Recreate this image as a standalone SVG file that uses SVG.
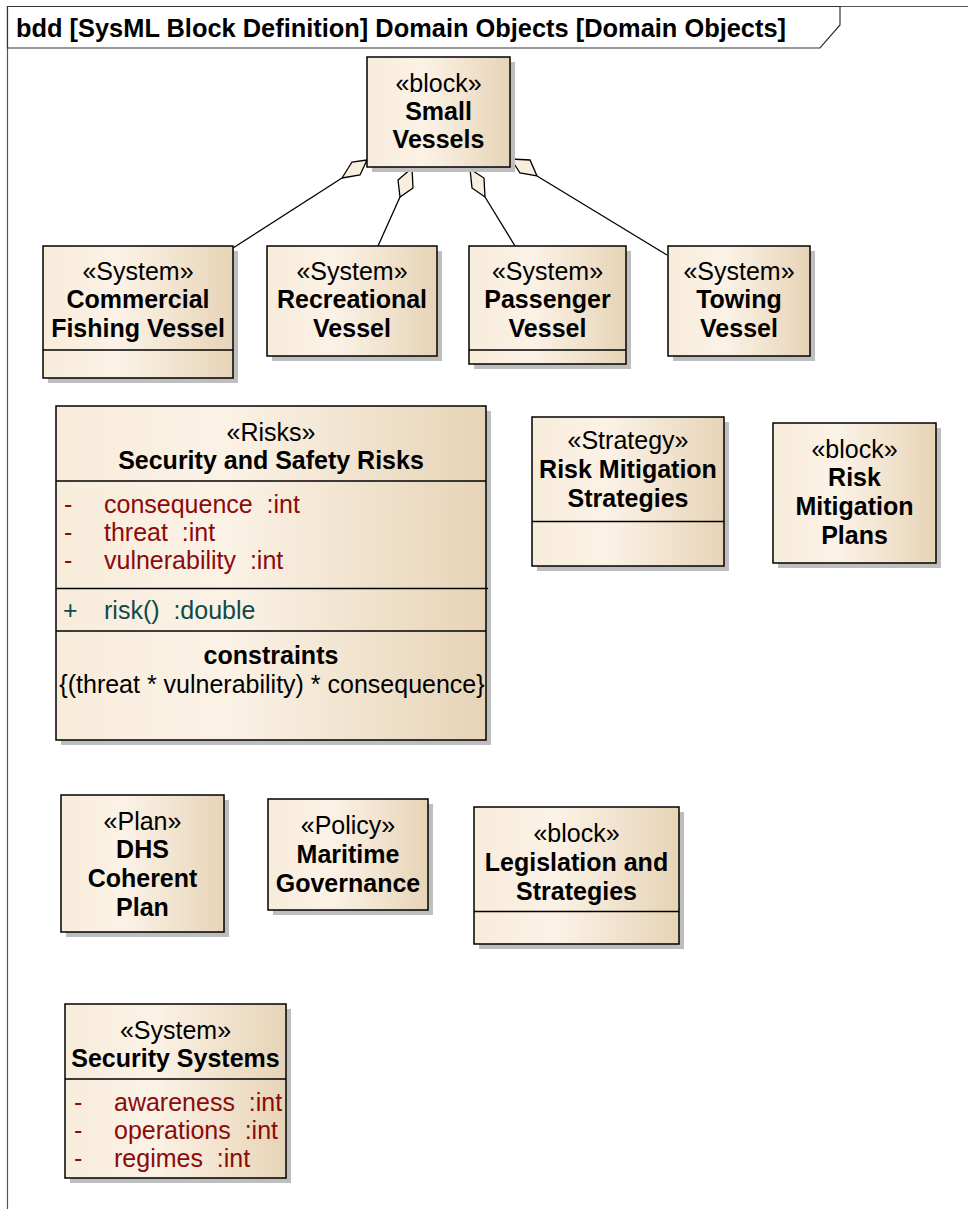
<svg xmlns="http://www.w3.org/2000/svg" width="968" height="1209" viewBox="0 0 968 1209">
<defs>
<linearGradient id="fill" x1="0" y1="0" x2="1" y2="0">
<stop offset="0" stop-color="#F8ECDB"/>
<stop offset="0.4" stop-color="#FBF2E6"/>
<stop offset="1" stop-color="#E7D4B7"/>
</linearGradient>
</defs>
<style>
text{font-family:"Liberation Sans",Arial,sans-serif;font-size:25px;fill:#000}
.c{text-anchor:middle}
.b{font-weight:bold}
.box{fill:url(#fill);stroke:#000;stroke-width:1.5}
.sh{fill:#BEBEBE}
.div{stroke:#000;stroke-width:1.3}
.attr{fill:#8B0A0A;white-space:pre}
.op{fill:#0D4A4A;white-space:pre}
.frame{fill:#fff;stroke:#333;stroke-width:1.2}
.con line{stroke:#000;stroke-width:1.3}
.con polygon{fill:#F8EEDE;stroke:#000;stroke-width:1.3}
</style>
<rect width="968" height="1209" fill="#fff"/>
<g id="frame">
<line x1="7.5" y1="6.5" x2="968" y2="6.5" stroke="#555" stroke-width="1.2"/>
<line x1="7.5" y1="6.5" x2="7.5" y2="1209" stroke="#555" stroke-width="1.2"/>
<path class="frame" d="M7.5 6.5 H840 V25 L820 48 H7.5 Z"/>
<text x="16" y="37" class="b" textLength="770" lengthAdjust="spacingAndGlyphs">bdd [SysML Block Definition] Domain Objects [Domain Objects]</text>
</g>
<g id="connectors" class="con">
<line x1="342" y1="178" x2="233" y2="248"/>
<polygon points="367,160 352,162 342,178 360,175"/>
<line x1="400" y1="197" x2="378" y2="246"/>
<polygon points="412,168 398,180 400,197 413,188"/>
<line x1="485" y1="197" x2="515" y2="246"/>
<polygon points="470,169 472,188 485,197 484,178"/>
<line x1="537" y1="176" x2="667" y2="255"/>
<polygon points="511,159 520,173 537,176 530,160"/>
</g>
<g id="small-vessels">
<rect class="sh" x="372" y="62" width="143" height="110"/>
<rect class="box" x="367" y="57" width="143" height="110"/>
<text class="c" x="438.5" y="92">«block»</text>
<text class="c b" x="438.5" y="120">Small</text>
<text class="c b" x="438.5" y="148">Vessels</text>
</g>
<g id="commercial-fishing-vessel">
<rect class="sh" x="48" y="251" width="190" height="132"/>
<rect class="box" x="43" y="246" width="190" height="132"/>
<line class="div" x1="43" y1="350" x2="233" y2="350"/>
<text class="c" x="138" y="280">«System»</text>
<text class="c b" x="138" y="308">Commercial</text>
<text class="c b" x="138" y="337">Fishing Vessel</text>
</g>
<g id="recreational-vessel">
<rect class="sh" x="272" y="251" width="170" height="110"/>
<rect class="box" x="267" y="246" width="170" height="110"/>
<text class="c" x="352" y="280">«System»</text>
<text class="c b" x="352" y="308">Recreational</text>
<text class="c b" x="352" y="337">Vessel</text>
</g>
<g id="passenger-vessel">
<rect class="sh" x="474" y="251" width="157" height="118"/>
<rect class="box" x="469" y="246" width="157" height="118"/>
<line class="div" x1="469" y1="350" x2="626" y2="350"/>
<text class="c" x="547.5" y="280">«System»</text>
<text class="c b" x="547.5" y="308">Passenger</text>
<text class="c b" x="547.5" y="337">Vessel</text>
</g>
<g id="towing-vessel">
<rect class="sh" x="673" y="251" width="142" height="110"/>
<rect class="box" x="668" y="246" width="142" height="110"/>
<text class="c" x="739" y="280">«System»</text>
<text class="c b" x="739" y="308">Towing</text>
<text class="c b" x="739" y="337">Vessel</text>
</g>
<g id="security-and-safety-risks">
<rect class="sh" x="61" y="411" width="430" height="334"/>
<rect class="box" x="56" y="406" width="430" height="334"/>
<line class="div" x1="56" y1="481" x2="486" y2="481"/>
<line class="div" x1="56" y1="588.5" x2="488" y2="588.5"/>
<line class="div" x1="56" y1="631" x2="486" y2="631"/>
<text class="c" x="271" y="441">«Risks»</text>
<text class="c b" x="271" y="469">Security and Safety Risks</text>
<text class="attr" x="64" y="513">-</text>
<text class="attr" x="104" y="513">consequence  :int</text>
<text class="attr" x="64" y="541">-</text>
<text class="attr" x="104" y="541">threat  :int</text>
<text class="attr" x="64" y="569">-</text>
<text class="attr" x="104" y="569">vulnerability  :int</text>
<text class="op" x="63" y="619">+</text>
<text class="op" x="104" y="619">risk()  :double</text>
<text class="c b" x="271" y="664">constraints</text>
<text class="c" x="272" y="693">{(threat * vulnerability) * consequence}</text>
</g>
<g id="risk-mitigation-strategies">
<rect class="sh" x="537" y="422" width="192" height="149"/>
<rect class="box" x="532" y="417" width="192" height="149"/>
<line class="div" x1="532" y1="521.5" x2="724" y2="521.5"/>
<text class="c" x="628" y="449">«Strategy»</text>
<text class="c b" x="628" y="478">Risk Mitigation</text>
<text class="c b" x="628" y="507">Strategies</text>
</g>
<g id="risk-mitigation-plans">
<rect class="sh" x="778" y="428" width="163" height="140"/>
<rect class="box" x="773" y="423" width="163" height="140"/>
<text class="c" x="854.5" y="458">«block»</text>
<text class="c b" x="854.5" y="486">Risk</text>
<text class="c b" x="854.5" y="515">Mitigation</text>
<text class="c b" x="854.5" y="544">Plans</text>
</g>
<g id="dhs-coherent-plan">
<rect class="sh" x="66" y="800" width="163" height="137"/>
<rect class="box" x="61" y="795" width="163" height="137"/>
<text class="c" x="142.5" y="830">«Plan»</text>
<text class="c b" x="142.5" y="858">DHS</text>
<text class="c b" x="142.5" y="887">Coherent</text>
<text class="c b" x="142.5" y="916">Plan</text>
</g>
<g id="maritime-governance">
<rect class="sh" x="273" y="804" width="160" height="111"/>
<rect class="box" x="268" y="799" width="160" height="111"/>
<text class="c" x="348" y="834">«Policy»</text>
<text class="c b" x="348" y="863">Maritime</text>
<text class="c b" x="348" y="892">Governance</text>
</g>
<g id="legislation-and-strategies">
<rect class="sh" x="479" y="812" width="205" height="137"/>
<rect class="box" x="474" y="807" width="205" height="137"/>
<line class="div" x1="474" y1="911.5" x2="679" y2="911.5"/>
<text class="c" x="576.5" y="842">«block»</text>
<text class="c b" x="576.5" y="871">Legislation and</text>
<text class="c b" x="576.5" y="900">Strategies</text>
</g>
<g id="security-systems">
<rect class="sh" x="70" y="1009" width="221" height="174"/>
<rect class="box" x="65" y="1004" width="221" height="174"/>
<line class="div" x1="65" y1="1079" x2="286" y2="1079"/>
<text class="c" x="175.5" y="1039">«System»</text>
<text class="c b" x="175.5" y="1067">Security Systems</text>
<text class="attr" x="74" y="1111">-</text>
<text class="attr" x="114" y="1111">awareness  :int</text>
<text class="attr" x="74" y="1139">-</text>
<text class="attr" x="114" y="1139">operations  :int</text>
<text class="attr" x="74" y="1167">-</text>
<text class="attr" x="114" y="1167">regimes  :int</text>
</g>
</svg>
